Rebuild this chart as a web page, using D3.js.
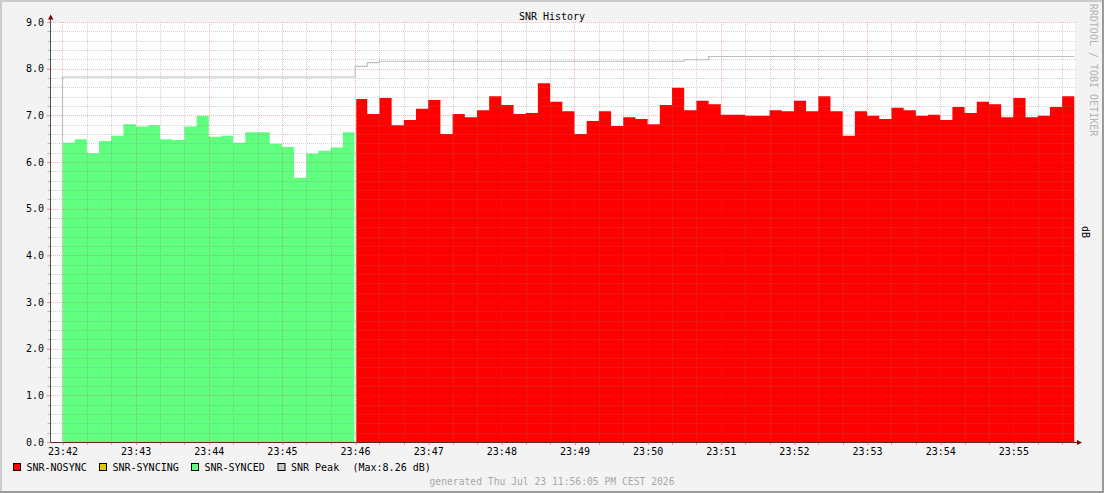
<!DOCTYPE html>
<html><head><meta charset="utf-8">
<script src="https://cdn.jsdelivr.net/npm/d3@7"></script>
<style>
html,body{margin:0;padding:0;background:#f3f3f3;overflow:hidden}
svg{display:block}
text{font-family:"DejaVu Sans Mono",monospace;}
</style></head><body>
<svg id="chart" width="1104" height="493"></svg>
<script>
// ---------------- data ----------------
const chartTitle = "SNR History";
const yAxisLabel = "dB";
const watermark = "RRDTOOL / TOBI OETIKER";
const generatedText = "generated Thu Jul 23 11:56:05 PM CEST 2026";
const startTime = [2026, 6, 23, 23, 42, 0];   // first sample
const domainStart = [2026, 6, 23, 23, 41, 50];
const domainEnd = [2026, 6, 23, 23, 55, 50];
const stepSeconds = 10;

// SNR-SYNCED (10 s samples from 23:42:00)
const syncedValues = [6.41, 6.49, 6.19, 6.45, 6.56, 6.81, 6.76, 6.79, 6.49, 6.47, 6.76, 6.99,
  6.54, 6.56, 6.41, 6.64, 6.64, 6.39, 6.32, 5.66, 6.18, 6.24, 6.31, 6.64];
// SNR-NOSYNC (10 s samples from 23:46:00)
const nosyncValues = [7.35, 7.03, 7.37, 6.79, 6.90, 7.14, 7.33, 6.60, 7.03, 6.96, 7.11, 7.41,
  7.22, 7.03, 7.05, 7.69, 7.29, 7.09, 6.60, 6.88, 7.09, 6.77, 6.96, 6.92, 6.81, 7.22,
  7.59, 7.11, 7.31, 7.24, 7.01, 7.01, 6.99, 6.99, 7.11, 7.09, 7.31, 7.09, 7.41, 7.09,
  6.56, 7.09, 6.99, 6.92, 7.16, 7.11, 6.99, 7.01, 6.90, 7.18, 7.05, 7.29, 7.24, 6.96,
  7.37, 6.96, 6.99, 7.18, 7.41];
// SNR Peak (10 s samples from 23:42:00)
const peakValues = [7.82, 7.82, 7.82, 7.82, 7.82, 7.82, 7.82, 7.82, 7.82, 7.82, 7.82, 7.82,
  7.82, 7.82, 7.82, 7.82, 7.82, 7.82, 7.82, 7.82, 7.82, 7.82, 7.82, 7.82,
  8.05, 8.13, 8.16, 8.16, 8.16, 8.16, 8.16, 8.16, 8.16, 8.16, 8.16, 8.16, 8.16, 8.16,
  8.16, 8.16, 8.16, 8.16, 8.16, 8.16, 8.16, 8.16, 8.16, 8.16, 8.16, 8.16, 8.16,
  8.19, 8.19, 8.26, 8.26, 8.26, 8.26, 8.26, 8.26, 8.26, 8.26, 8.26, 8.26, 8.26, 8.26,
  8.26, 8.26, 8.26, 8.26, 8.26, 8.26, 8.26, 8.26, 8.26, 8.26, 8.26, 8.26, 8.26, 8.26,
  8.26, 8.26, 8.26, 8.26];
const legendNames = ["SNR-NOSYNC", "SNR-SYNCING", "SNR-SYNCED", "SNR Peak"];
const legendColors = ["#ff0000", "#dccc00", "#60ff80", "#c8c8c8"];
const maxText = "(Max:8.26 dB)";
const yTickValues = [0, 1, 2, 3, 4, 5, 6, 7, 8, 9];

// ---------------- layout ----------------
const W = 1104, H = 493;
const plot = {left: 50.3, right: 1074.3, top: 22, bottom: 442};
const svg = d3.select("#chart");
const mkDate = a => new Date(a[0], a[1], a[2], a[3], a[4], a[5]);
const t0 = mkDate(startTime);
const tAt = i => new Date(t0.getTime() + i * stepSeconds * 1000);

const x = d3.scaleTime().domain([mkDate(domainStart), mkDate(domainEnd)]).range([plot.left, plot.right]);
const y = d3.scaleLinear().domain([0, 9]).range([plot.bottom, plot.top]);

// background & frame
svg.append("rect").attr("x", 0).attr("y", 0).attr("width", W).attr("height", H).attr("fill", "#f3f3f3");
svg.append("path").attr("d", `M0,${H} V0 H${W}`).attr("fill", "none").attr("stroke", "#cbcbcb").attr("stroke-width", 4);
svg.append("path").attr("d", `M0,${H} H${W} V0`).attr("fill", "none").attr("stroke", "#9a9a9a").attr("stroke-width", 4);
svg.append("rect").attr("x", 51).attr("y", plot.top).attr("width", plot.right - 51 + 0.7)
  .attr("height", plot.bottom - plot.top).attr("fill", "#ffffff");

// areas
const syncedPts = syncedValues.map((v, i) => ({t: tAt(i), v}));
syncedPts.push({t: tAt(syncedValues.length), v: syncedValues[syncedValues.length - 1], end: true});
const nosyncOffset = syncedValues.length;
const nosyncPts = nosyncValues.map((v, i) => ({t: tAt(nosyncOffset + i), v, start: i === 0}));
nosyncPts.push({t: tAt(nosyncOffset + nosyncValues.length), v: nosyncValues[nosyncValues.length - 1]});

const areaGen = (dxStart, dxEnd) => d3.area().curve(d3.curveStepAfter)
  .x(d => x(d.t) + (d.end ? dxEnd : 0) + (d.start ? dxStart : 0))
  .y0(y(0)).y1(d => y(d.v));

svg.append("path").datum(syncedPts).attr("d", areaGen(0.6, -0.6)).attr("fill", legendColors[2]);
svg.append("path").datum(nosyncPts).attr("d", areaGen(1.2, 0)).attr("fill", legendColors[0]);

// grid (on top, translucent)
const gridG = svg.append("g").attr("shape-rendering", "crispEdges");
const minorColor = "rgba(128,128,128,0.36)";
const majorColor = "rgba(225,60,60,0.36)";
const yMinor = d3.range(0, 9.0001, 0.2).filter(v => Math.abs(v - Math.round(v)) > 1e-6);
gridG.selectAll(".hmin").data(yMinor).join("line")
  .attr("x1", 51).attr("x2", plot.right + 2).attr("y1", d => Math.round(y(d)) + 0.5).attr("y2", d => Math.round(y(d)) + 0.5)
  .attr("stroke", minorColor).attr("stroke-dasharray", "1,1");
gridG.selectAll(".hmaj").data(yTickValues.slice(1)).join("line")
  .attr("x1", 51).attr("x2", plot.right + 2).attr("y1", d => Math.round(y(d)) + 0.5).attr("y2", d => Math.round(y(d)) + 0.5)
  .attr("stroke", majorColor).attr("stroke-dasharray", "1,1");
const minorTimes = d3.timeSecond.every(20).range(x.domain()[0], x.domain()[1]).filter(d => d.getSeconds() !== 0);
const majorTimes = d3.timeMinute.every(1).range(x.domain()[0], x.domain()[1]);
gridG.selectAll(".vmin").data(minorTimes).join("line")
  .attr("x1", d => Math.round(x(d)) + 0.5).attr("x2", d => Math.round(x(d)) + 0.5)
  .attr("y1", plot.top).attr("y2", plot.bottom)
  .attr("stroke", minorColor).attr("stroke-dasharray", "1,1");
gridG.selectAll(".vmaj").data(majorTimes).join("line")
  .attr("x1", d => Math.round(x(d)) + 0.5).attr("x2", d => Math.round(x(d)) + 0.5)
  .attr("y1", plot.top).attr("y2", plot.bottom)
  .attr("stroke", majorColor).attr("stroke-dasharray", "1,1");

// peak line (starts from the first synced value)
const peakPts = [{t: tAt(0), v: syncedValues[0]}].concat(peakValues.map((v, i) => ({t: tAt(i), v})));
peakPts.push({t: tAt(peakValues.length), v: peakValues[peakValues.length - 1]});
svg.append("path").datum(peakPts)
  .attr("d", d3.line().curve(d3.curveStepAfter).x(d => x(d.t)).y(d => y(d.v)))
  .attr("fill", "none").attr("stroke", "#bdbdbd").attr("stroke-width", 1.1);

// axes
const axisG = svg.append("g");
axisG.append("line").attr("x1", 50.5).attr("x2", 50.5).attr("y1", plot.bottom + 0.5).attr("y2", 19)
  .attr("stroke", "#505050").attr("stroke-width", 1);
axisG.append("line").attr("x1", 50.5).attr("x2", 1078).attr("y1", 442.5).attr("y2", 442.5)
  .attr("stroke", "#5a2a2a").attr("stroke-width", 1);
axisG.append("path").attr("d", "M48,19.5 L50.7,14.5 L53.4,19.5 Z").attr("fill", "#7f0000");
axisG.append("path").attr("d", "M1077,440 L1082,442.5 L1077,445 Z").attr("fill", "#7f0000");

// x ticks
const xAxis = d3.axisBottom(x).tickValues(majorTimes.filter(d => x(d) > plot.left + 5))
  .tickFormat(d3.timeFormat("%H:%M")).tickSize(3).tickPadding(2);
const xg = svg.append("g").attr("transform", `translate(0,${plot.bottom})`).call(xAxis);
xg.select(".domain").remove();
xg.selectAll(".tick line").attr("stroke", "rgba(225,60,60,0.6)").attr("transform", "translate(0.5,0)");
xg.selectAll(".tick text").attr("font-family", "DejaVu Sans Mono").attr("font-size", 10).attr("fill", "#000")
  .attr("dy", "0.75em");
svg.append("g").selectAll("line").data(minorTimes).join("line")
  .attr("x1", d => Math.round(x(d)) + 0.5).attr("x2", d => Math.round(x(d)) + 0.5)
  .attr("y1", 443).attr("y2", 445).attr("stroke", "rgba(128,128,128,0.5)");

// y ticks
const yAxis = d3.axisLeft(y).tickValues(yTickValues).tickFormat(d3.format(".1f")).tickSize(3).tickPadding(3);
const yg = svg.append("g").attr("transform", "translate(50,0)").call(yAxis);
yg.select(".domain").remove();
yg.selectAll(".tick line").attr("stroke", "rgba(225,60,60,0.6)");
yg.selectAll(".tick text").attr("font-family", "DejaVu Sans Mono").attr("font-size", 10).attr("fill", "#000");
svg.append("g").selectAll("line").data(yMinor).join("line")
  .attr("x1", 47.5).attr("x2", 50).attr("y1", d => Math.round(y(d)) + 0.5).attr("y2", d => Math.round(y(d)) + 0.5)
  .attr("stroke", "rgba(128,128,128,0.5)");

// title
svg.append("text").attr("x", 552).attr("y", 19.5).attr("text-anchor", "middle")
  .attr("font-size", 10).attr("fill", "#000").text(chartTitle);

// y unit label
svg.append("text").attr("transform", "translate(1082,232) rotate(90)").attr("text-anchor", "middle")
  .attr("font-size", 10).attr("fill", "#000").text(yAxisLabel);

// watermark
svg.append("text").attr("transform", "translate(1089.5,70) rotate(90)").attr("text-anchor", "middle")
  .attr("font-size", 10).attr("fill", "#b4b4b4").text(watermark);

// legend
const legendX = [13.5, 99.5, 191.5, 278];
const lg = svg.append("g");
legendNames.forEach((name, i) => {
  lg.append("rect").attr("x", legendX[i]).attr("y", 463.5).attr("width", 7).attr("height", 7)
    .attr("fill", legendColors[i]).attr("stroke", "#000").attr("stroke-width", 1);
  lg.append("text").attr("x", legendX[i] + 13).attr("y", 470.5).attr("font-size", 10)
    .attr("fill", "#000").text(name);
});
lg.append("text").attr("x", 352.5).attr("y", 470.5).attr("font-size", 10).attr("fill", "#000").text(maxText);

// generated footer
svg.append("text").attr("x", 552).attr("y", 484.5).attr("text-anchor", "middle")
  .attr("font-size", 9.7).attr("fill", "#a8a8a8").text(generatedText);
</script>
</body></html>
